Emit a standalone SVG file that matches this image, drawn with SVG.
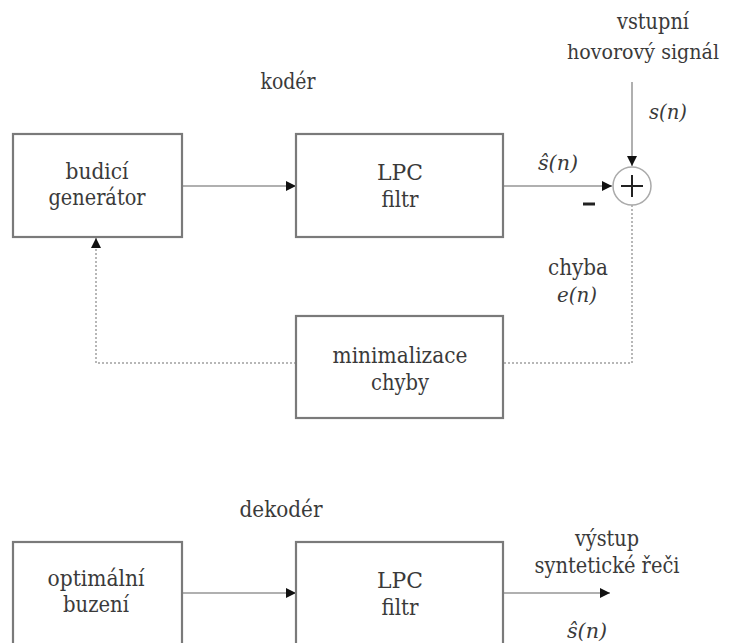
<svg xmlns="http://www.w3.org/2000/svg" width="736" height="643" viewBox="0 0 736 643">
<style>
text{font-family:'DejaVu Serif',serif;font-size:22px;fill:#3a3a3a;text-anchor:middle}
.it{font-style:italic;font-size:20px}
.box{fill:#fff;stroke:#7a7a7a;stroke-width:2.2}
.ln{fill:none;stroke:#b0b0b0;stroke-width:2}
.dt{fill:none;stroke:#a0a0a0;stroke-width:1.5;stroke-dasharray:2 2}
</style>
<defs>
<marker id="ah" viewBox="0 0 10 10" refX="10" refY="5" markerWidth="10" markerHeight="10" markerUnits="userSpaceOnUse" orient="auto">
<path d="M0,0 L10,5 L0,10 z" fill="#111"/>
</marker>
</defs>
<rect width="736" height="643" fill="#fff"/>

<g id="connectors">
<line class="ln" x1="183" y1="186" x2="296" y2="186" marker-end="url(#ah)"/>
<line class="ln" x1="503" y1="186" x2="612" y2="186" marker-end="url(#ah)"/>
<line class="ln" x1="632" y1="82" x2="632" y2="166" marker-end="url(#ah)"/>
<polyline class="dt" points="632,205 632,363 504,363"/>
<polyline class="dt" points="296,363 96,363 96,248"/>
<line x1="96" y1="248" x2="96" y2="238" stroke="#999" stroke-width="1.5" marker-end="url(#ah)"/>
<line class="ln" x1="183" y1="593" x2="296" y2="593" marker-end="url(#ah)"/>
<line class="ln" x1="503" y1="593" x2="610" y2="593" marker-end="url(#ah)"/>
</g>

<g id="label-koder"><text x="288" y="89" textLength="55" lengthAdjust="spacingAndGlyphs">kodér</text></g>
<g id="label-dekoder"><text x="281" y="517" textLength="83" lengthAdjust="spacingAndGlyphs">dekodér</text></g>

<g id="budici-generator">
<rect class="box" x="13" y="134" width="169" height="103"/>
<text x="97" y="179" textLength="63" lengthAdjust="spacingAndGlyphs">budicí</text>
<text x="97" y="205" textLength="97" lengthAdjust="spacingAndGlyphs">generátor</text>
</g>

<g id="lpc-filtr-1">
<rect class="box" x="296" y="134" width="207" height="103"/>
<text x="400" y="180" textLength="46" lengthAdjust="spacingAndGlyphs">LPC</text>
<text x="400" y="207" textLength="37" lengthAdjust="spacingAndGlyphs">filtr</text>
</g>

<g id="sum">
<circle cx="632" cy="186" r="19" fill="#fff" stroke="#aaa" stroke-width="1.5"/>
<path d="M621,186 H643 M632,175 V197" stroke="#222" stroke-width="2"/>
<line x1="583" y1="204" x2="595" y2="204" stroke="#222" stroke-width="3"/>
</g>

<g id="label-input">
<text x="653" y="29" textLength="72" lengthAdjust="spacingAndGlyphs">vstupní</text>
<text x="643" y="59" style="font-size:20px" textLength="152" lengthAdjust="spacingAndGlyphs">hovorový signál</text>
<text class="it" x="668" y="119" textLength="38" lengthAdjust="spacingAndGlyphs">s(n)</text>
</g>

<g id="label-shat">
<text class="it" x="558" y="170" textLength="40" lengthAdjust="spacingAndGlyphs">ŝ(n)</text>
</g>

<g id="label-error">
<text x="578" y="275" textLength="60" lengthAdjust="spacingAndGlyphs">chyba</text>
<text class="it" x="577" y="302" textLength="40" lengthAdjust="spacingAndGlyphs">e(n)</text>
</g>

<g id="minimalizace-chyby">
<rect class="box" x="296" y="316" width="207" height="102"/>
<text x="400" y="363" textLength="135" lengthAdjust="spacingAndGlyphs">minimalizace</text>
<text x="400" y="390" textLength="58" lengthAdjust="spacingAndGlyphs">chyby</text>
</g>

<g id="optimalni-buzeni">
<rect class="box" x="13" y="542" width="169" height="104"/>
<text x="96" y="586" textLength="97" lengthAdjust="spacingAndGlyphs">optimální</text>
<text x="96" y="612" textLength="66" lengthAdjust="spacingAndGlyphs">buzení</text>
</g>

<g id="lpc-filtr-2">
<rect class="box" x="296" y="542" width="207" height="104"/>
<text x="400" y="588" textLength="46" lengthAdjust="spacingAndGlyphs">LPC</text>
<text x="400" y="615" textLength="37" lengthAdjust="spacingAndGlyphs">filtr</text>
</g>

<g id="label-output">
<text x="607" y="546" textLength="64" lengthAdjust="spacingAndGlyphs">výstup</text>
<text x="607" y="573" textLength="145" lengthAdjust="spacingAndGlyphs">syntetické řeči</text>
<text class="it" x="587" y="638" textLength="40" lengthAdjust="spacingAndGlyphs">ŝ(n)</text>
</g>
</svg>
